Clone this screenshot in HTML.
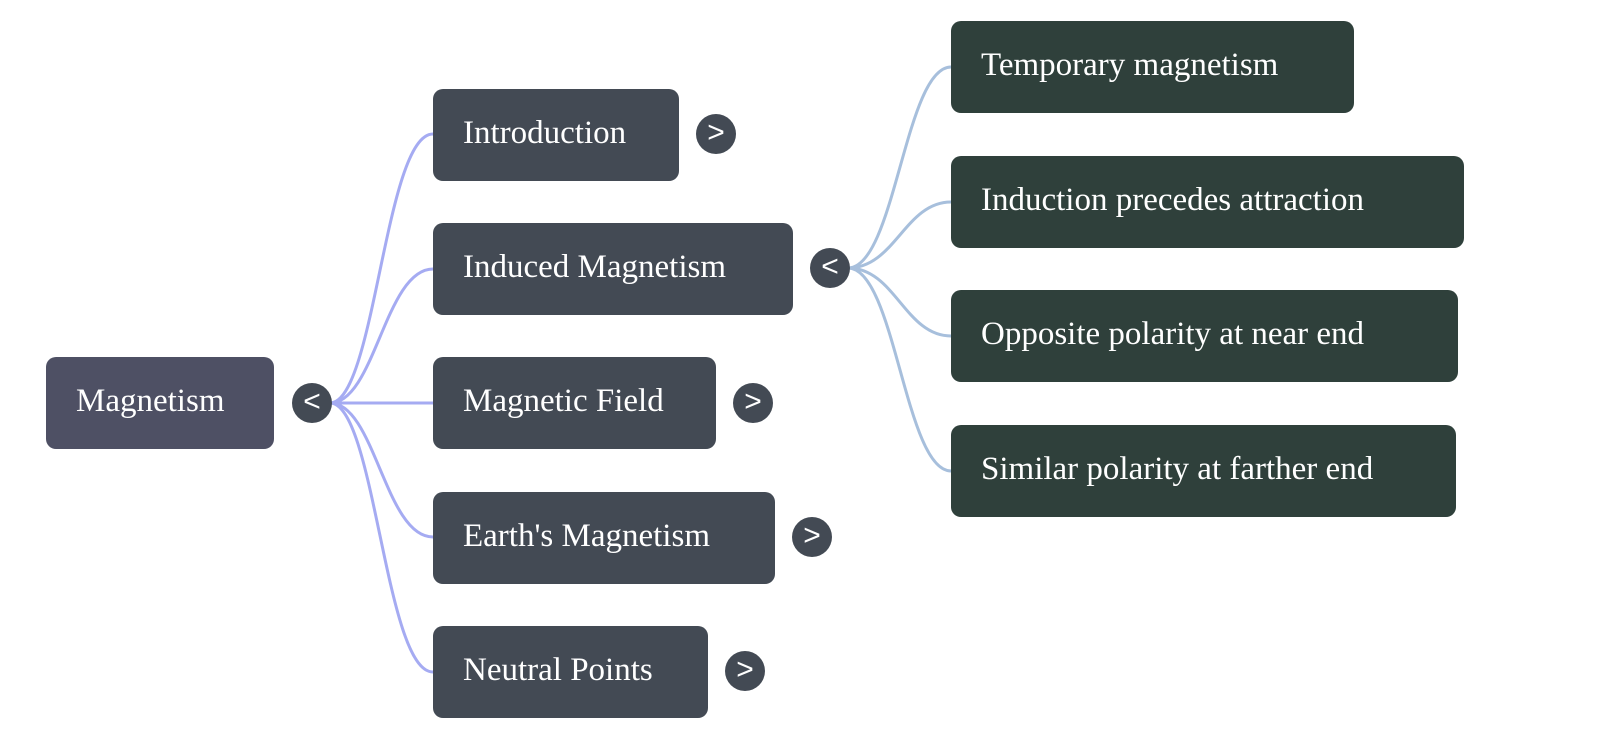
<!DOCTYPE html>
<html><head><style>
body{margin:0;width:1600px;height:755px;background:#fff;position:relative;overflow:hidden;font-family:"Liberation Serif",serif}
.n{position:absolute;border-radius:10px;color:#fff;font-size:33px;line-height:88px;padding-left:30px;box-sizing:border-box;height:92px;white-space:nowrap}
.l1{background:#434a54}.l2{background:#2f403b}
.c{position:absolute;width:40px;height:40px;border-radius:50%;background:#434a54;color:#fff;font-family:"Liberation Sans",sans-serif;font-size:30px;line-height:38px;text-align:center}
svg{position:absolute;left:0;top:0}
</style></head><body>
<svg width="1600" height="755" fill="none" stroke-width="3">
<g stroke="#a5abf2">
<path d="M330 403 C375 403 385 134 433 134"/>
<path d="M330 403 C375 403 385 269 433 269"/>
<path d="M330 403 L433 403"/>
<path d="M330 403 C375 403 385 537 433 537"/>
<path d="M330 403 C375 403 385 672 433 672"/>
</g>
<g stroke="#a7bfdc">
<path d="M848 268 C895 268 905 67 951 67"/>
<path d="M848 268 C895 268 905 202 951 202"/>
<path d="M848 268 C895 268 905 336 951 336"/>
<path d="M848 268 C895 268 905 471 951 471"/>
</g>
</svg>
<div class="n" style="left:46px;top:357px;width:228px;background:#4e5064">Magnetism</div>
<div class="c" style="left:292px;top:383px">&lt;</div>
<div class="n l1" style="left:433px;top:89px;width:246px">Introduction</div>
<div class="c" style="left:696px;top:114px">&gt;</div>
<div class="n l1" style="left:433px;top:223px;width:360px">Induced Magnetism</div>
<div class="c" style="left:810px;top:248px">&lt;</div>
<div class="n l1" style="left:433px;top:357px;width:283px">Magnetic Field</div>
<div class="c" style="left:733px;top:383px">&gt;</div>
<div class="n l1" style="left:433px;top:492px;width:342px">Earth's Magnetism</div>
<div class="c" style="left:792px;top:517px">&gt;</div>
<div class="n l1" style="left:433px;top:626px;width:275px">Neutral Points</div>
<div class="c" style="left:725px;top:651px">&gt;</div>
<div class="n l2" style="left:951px;top:21px;width:403px">Temporary magnetism</div>
<div class="n l2" style="left:951px;top:156px;width:513px">Induction precedes attraction</div>
<div class="n l2" style="left:951px;top:290px;width:507px">Opposite polarity at near end</div>
<div class="n l2" style="left:951px;top:425px;width:505px">Similar polarity at farther end</div>
</body></html>
